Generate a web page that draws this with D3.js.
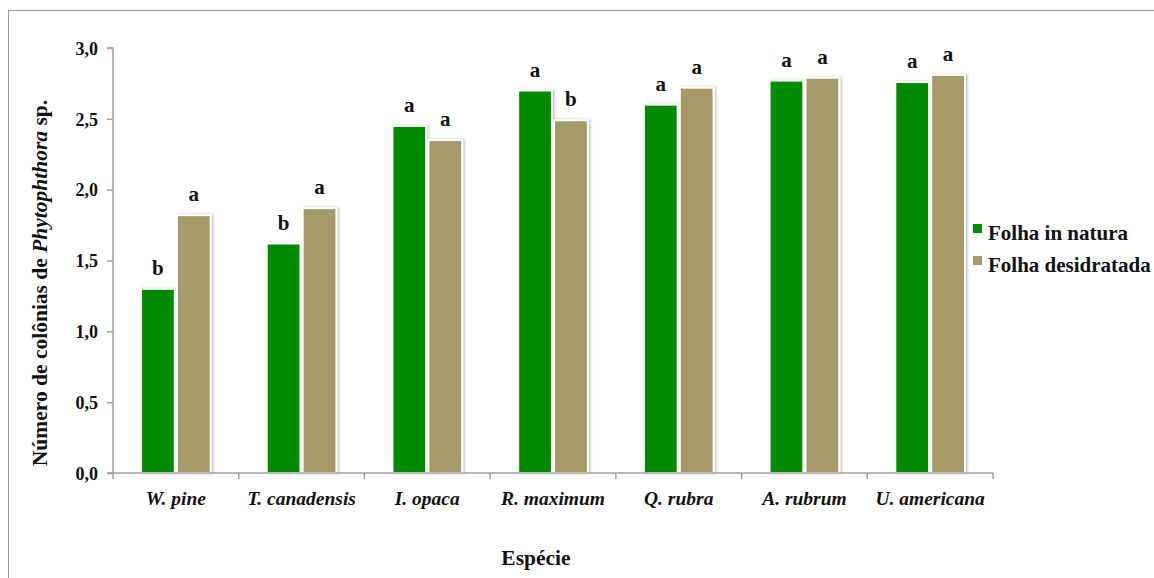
<!DOCTYPE html>
<html><head><meta charset="utf-8">
<script src="https://cdn.jsdelivr.net/npm/d3@7"></script>
<style>body{margin:0;background:#fff}</style>
</head><body>
<svg id="c" width="1154" height="578"></svg>
<script>
const categories = ["W. pine","T. canadensis","I. opaca","R. maximum","Q. rubra","A. rubrum","U. americana"];
const seriesNames = ["Folha in natura","Folha desidratada"];
const inNatura = [1.30,1.62,2.45,2.70,2.60,2.77,2.76];
const desidratada = [1.82,1.87,2.35,2.49,2.72,2.79,2.81];
const lettersInNatura = ["b","b","a","a","a","a","a"];
const lettersDesid = ["a","a","a","b","a","a","a"];
const yTicks = [0,0.5,1,1.5,2,2.5,3];
const colors = ["#008a00","#a59a68"];

const svg = d3.select("#c");
const serif = "'Liberation Serif','Times New Roman',serif";
const defs = svg.append("defs");
const f = defs.append("filter").attr("id","sh").attr("x","-20%").attr("y","-20%").attr("width","150%").attr("height","150%");
f.append("feDropShadow").attr("dx",1.5).attr("dy",0).attr("stdDeviation",1.2).attr("flood-color","#000").attr("flood-opacity",0.25);

svg.append("rect").attr("x",8.5).attr("y",10.5).attr("width",1160).attr("height",580)
  .attr("fill","none").attr("stroke","#9a9a9a").attr("stroke-width",1);

const L=113, R=993, T=48, B=473;
const x = d3.scaleBand().domain(categories).range([L,R]).paddingInner(0).paddingOuter(0);
const xs = d3.scaleBand().domain(seriesNames).range([0,x.bandwidth()]).paddingInner(0.06).paddingOuter(0.78);
const y = d3.scaleLinear().domain([0,3]).range([B,T]);

const series = [inNatura, desidratada];
const letters = [lettersInNatura, lettersDesid];
const g = svg.append("g");
seriesNames.forEach((s,si)=>{
  g.selectAll(null).data(categories).enter().append("rect")
    .attr("x",c=>x(c)+xs(s)).attr("width",xs.bandwidth())
    .attr("y",(c,i)=>y(series[si][i])).attr("height",(c,i)=>B-y(series[si][i]))
    .attr("fill",colors[si]).attr("stroke","#fff").attr("stroke-width",2)
    .attr("filter","url(#sh)");
  g.selectAll(null).data(categories).enter().append("text")
    .attr("x",c=>x(c)+xs(s)+xs.bandwidth()/2)
    .attr("y",(c,i)=>y(series[si][i])-14)
    .attr("text-anchor","middle").attr("font-family",serif).attr("font-weight","bold")
    .attr("font-size",21).attr("fill","#111").text((c,i)=>letters[si][i]);
});

// y axis
const ya = svg.append("g").attr("transform",`translate(${L},0)`)
  .call(d3.axisLeft(y).tickValues(yTicks).tickSize(6).tickPadding(9).tickFormat(d=>d3.format(".1f")(d).replace(".",",")));
ya.selectAll("path,line").attr("stroke","#a0a0a0").attr("stroke-width",1.5);
ya.selectAll("text").attr("font-family",serif).attr("font-weight","bold").attr("font-size",18).attr("fill","#111").attr("dy","0.35em");
ya.select(".domain").attr("d",`M-6,${B}H0V${T}H-6`);

// x axis
const xa = svg.append("g").attr("transform",`translate(0,${B})`)
  .call(d3.axisBottom(x).tickSize(0).tickPadding(18));
xa.selectAll("path").attr("stroke","#a0a0a0").attr("stroke-width",1.5).attr("d",`M${L},0H${R}`);
xa.selectAll("text").attr("font-family",serif).attr("font-weight","bold").attr("font-style","italic").attr("font-size",19.5).attr("fill","#111");
const bounds = categories.map(c=>x(c)).concat([R]);
svg.append("g").selectAll("line").data(bounds).enter().append("line")
  .attr("x1",d=>d).attr("x2",d=>d).attr("y1",B).attr("y2",B+6).attr("stroke","#a0a0a0").attr("stroke-width",1.5);

// axis titles
svg.append("text").attr("x",536).attr("y",565).attr("text-anchor","middle")
  .attr("font-family",serif).attr("font-weight","bold").attr("font-size",21.5).attr("fill","#111").text("Espécie");
const yt = svg.append("text").attr("transform","translate(47,283) rotate(-90)").attr("text-anchor","middle")
  .attr("font-family",serif).attr("font-weight","bold").attr("font-size",21.5).attr("fill","#111");
yt.append("tspan").text("Número de colônias de ");
yt.append("tspan").attr("font-style","italic").text("Phytophthora");
yt.append("tspan").text(" sp.");

// legend
const lg = svg.append("g");
seriesNames.forEach((s,i)=>{
  lg.append("rect").attr("x",973).attr("y",224+i*32).attr("width",9).attr("height",9).attr("fill",colors[i]);
  lg.append("text").attr("x",988).attr("y",240+i*32).attr("font-family",serif).attr("font-weight","bold")
    .attr("font-size",21).attr("fill","#111").text(s);
});
</script>
</body></html>
